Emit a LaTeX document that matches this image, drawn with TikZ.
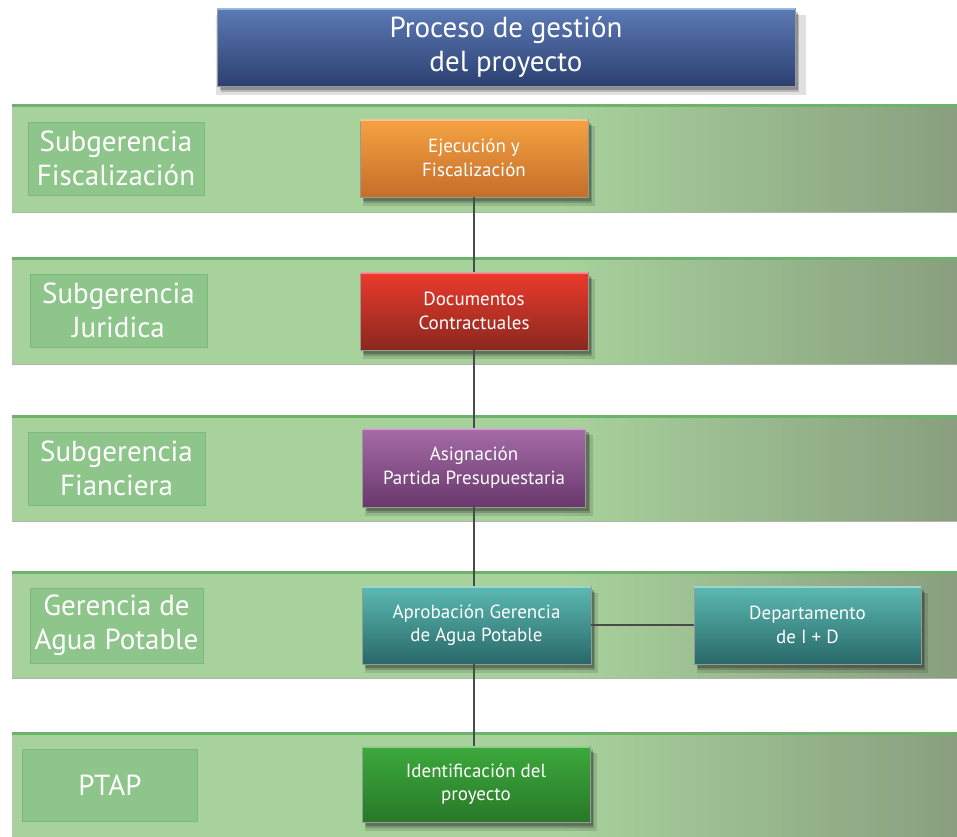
\documentclass[tikz,border=0pt]{standalone}
\usepackage{fontspec}
\setmainfont{PT Sans}
\usetikzlibrary{shadows}
\definecolor{bandL}{HTML}{A8D29C}
\definecolor{bandR}{HTML}{899F7F}
\definecolor{bandTop}{HTML}{6DB36B}
\definecolor{lblfill}{HTML}{8EC58A}
\definecolor{lbledge}{HTML}{7DB97A}
\definecolor{connc}{HTML}{4A4A4A}
\definecolor{titT}{RGB}{92,122,182}
\definecolor{titB}{RGB}{44,64,112}
\definecolor{titH}{RGB}{150,200,240}
\definecolor{orT}{RGB}{246,162,66}
\definecolor{orB}{RGB}{196,110,42}
\definecolor{reT}{RGB}{236,58,44}
\definecolor{reB}{RGB}{138,40,30}
\definecolor{puT}{RGB}{166,108,168}
\definecolor{puB}{RGB}{104,56,108}
\definecolor{teT}{RGB}{92,186,178}
\definecolor{teB}{RGB}{40,104,104}
\definecolor{grT}{RGB}{60,170,60}
\definecolor{grB}{RGB}{40,120,40}
\newcommand\myband[2]{%
  \fill[bandL] (12,#1) rectangle (957,#2);
  \shade[left color=bandL,right color=bandR] (560,#1) rectangle (957,#2);
  \draw[black!30,line width=0.8pt] (12,#2) -- (957,#2);
  \draw[black!25,line width=0.8pt] (12,#1) -- (12,#2);
  \draw[bandTop,line width=3pt] (12,#1) -- (957,#1);
}
\begin{document}
\begin{tikzpicture}[x=1pt,y=-1pt,
  lblbox/.style={fill=lblfill,draw=lbledge,line width=1pt,text=white,align=center,
    font=\fontsize{29}{34}\selectfont,inner sep=0pt},
  procbox/.style={draw=black!40,line width=0.6pt,text=white,align=center,inner sep=0pt,
    font=\fontsize{19}{23.5}\selectfont,
    drop shadow={shadow xshift=5pt,shadow yshift=-8pt,opacity=0.12,fill=black,shadow scale=1.02},
    drop shadow={shadow xshift=4pt,shadow yshift=-6pt,opacity=0.18,fill=black},
    drop shadow={shadow xshift=3pt,shadow yshift=-4pt,opacity=0.22,fill=black}},
  conn/.style={connc,line width=2pt},
  hl/.style={opacity=0.8,line width=2pt}
]
\useasboundingbox (0,0) rectangle (957,836);
\fill[white] (0,0) rectangle (957,836);

% title
\node[procbox,minimum width=578,minimum height=78,top color=titT,bottom color=titB,
  font=\fontsize{29}{34}\selectfont] (title) at (506,47) {Proceso de gestión\\del proyecto};
\draw[hl,titH] ([yshift=-1.5pt]title.north west) -- ([yshift=-1.5pt]title.north east);

% bands
\myband{105}{212}
\myband{258}{364}
\myband{416}{521}
\myband{572}{678}
\myband{733}{840}

% labels
\node[lblbox,minimum width=176,minimum height=73] (l1) at (116,158.5) {Subgerencia\\Fiscalización};
\node[lblbox,minimum width=177,minimum height=73] (l2) at (118.5,310.5) {Subgerencia\\Juridica};
\node[lblbox,minimum width=177,minimum height=73] (l3) at (116.5,468.5) {Subgerencia\\Fianciera};
\node[lblbox,minimum width=173,minimum height=75] (l4) at (116.5,625.5) {Gerencia de\\Agua Potable};
\node[lblbox,minimum width=175,minimum height=72] (l5) at (110,785) {PTAP};

% process boxes
\node[procbox,minimum width=228,minimum height=78,top color=orT,bottom color=orB] (e) at (474,158) {Ejecución y\\Fiscalización};
\node[procbox,minimum width=228,minimum height=78,top color=reT,bottom color=reB] (r) at (474,311) {Documentos\\Contractuales};
\node[procbox,minimum width=223,minimum height=79,top color=puT,bottom color=puB] (p) at (474,467.5) {Asignación\\Partida Presupuestaria};
\node[procbox,minimum width=229,minimum height=78,top color=teT,bottom color=teB] (a) at (476.5,625) {Aprobación Gerencia\\de Agua Potable};
\node[procbox,minimum width=227,minimum height=78,top color=teT,bottom color=teB] (d) at (807.5,625) {Departamento\\de I + D};
\node[procbox,minimum width=228,minimum height=76,top color=grT,bottom color=grB] (g) at (476,784) {Identificación del\\proyecto};

% highlights
\foreach \n/\c in {e/orT!50!white,r/reT!50!white,p/puT!50!white,a/teT!50!white,d/teT!50!white,g/grT!50!white}{
  \draw[hl,\c] ([yshift=-1.5pt]\n.north west) -- ([yshift=-1.5pt]\n.north east);
}

% connectors
\draw[conn] (e.south) -- (e.south |- r.north);
\draw[conn] (r.south) -- (r.south |- p.north);
\draw[conn] (p.south) -- (p.south |- a.north);
\draw[conn] (p.south |- a.south) -- (p.south |- g.north);
\draw[conn] (a.east) -- (d.west);
\end{tikzpicture}
\end{document}
